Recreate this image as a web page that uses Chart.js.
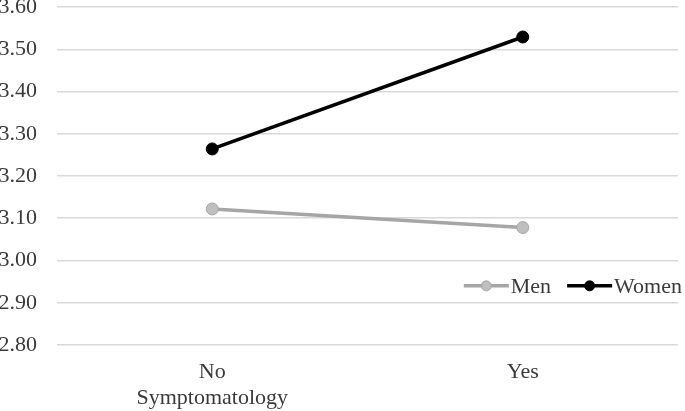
<!DOCTYPE html>
<html>
<head>
<meta charset="utf-8">
<script src="https://cdn.jsdelivr.net/npm/chart.js@4.4.1/dist/chart.umd.min.js"></script>
<style>
  html, body { margin: 0; padding: 0; background: #fff; }
  #wrap { width: 685px; height: 411px; position: relative; }
</style>
</head>
<body>
<div id="wrap"><canvas id="c" width="685" height="411"></canvas></div>
<script>
const categories = [["No", "Symptomatology"], "Yes"];
const menValues = [3.122, 3.078];
const womenValues = [3.264, 3.529];
const yTicks = [2.80, 2.90, 3.00, 3.10, 3.20, 3.30, 3.40, 3.50, 3.60];

const FONT = "'Liberation Serif', 'Times New Roman', serif";
const TEXT = '#3a3a3a';
const FSIZE = 22;

const legendPlugin = {
  id: 'insideLegend',
  afterDraw(chart) {
    const ctx = chart.ctx;
    const area = chart.chartArea;
    const y = chart.scales.y.getPixelForValue(2.94);
    ctx.save();
    ctx.font = FSIZE + 'px ' + FONT;
    ctx.textBaseline = 'middle';
    ctx.textAlign = 'left';
    const items = chart.data.datasets.map(ds => ({ ds, w: ctx.measureText(ds.label).width }));
    const lineLen = 45, gap = 2, itemGap = 16;
    let total = 0;
    items.forEach((it, i) => { total += lineLen + gap + it.w + (i ? itemGap : 0); });
    let x = area.right + 4 - total;
    items.forEach((it, i) => {
      if (i) x += itemGap;
      const ds = it.ds;
      ctx.strokeStyle = ds.borderColor;
      ctx.lineWidth = ds.borderWidth;
      ctx.beginPath();
      ctx.moveTo(x, y);
      ctx.lineTo(x + lineLen, y);
      ctx.stroke();
      ctx.beginPath();
      ctx.arc(x + lineLen / 2, y, 5, 0, Math.PI * 2);
      ctx.fillStyle = ds.pointBackgroundColor;
      ctx.fill();
      ctx.lineWidth = ds.pointBorderWidth;
      ctx.strokeStyle = ds.pointBorderColor;
      ctx.stroke();
      x += lineLen + gap;
      ctx.fillStyle = TEXT;
      ctx.fillText(ds.label, x, y + 1);
      x += it.w;
    });
    ctx.restore();
  }
};

new Chart(document.getElementById('c'), {
  type: 'line',
  data: {
    labels: categories,
    datasets: [
      {
        label: 'Men',
        data: menValues,
        borderColor: '#a6a6a6',
        borderWidth: 3.5,
        pointRadius: 6,
        pointBackgroundColor: '#bfbfbf',
        pointBorderColor: '#a6a6a6',
        pointBorderWidth: 1,
        fill: false,
        tension: 0
      },
      {
        label: 'Women',
        data: womenValues,
        borderColor: '#000000',
        borderWidth: 3.5,
        pointRadius: 6,
        pointBackgroundColor: '#000000',
        pointBorderColor: '#000000',
        pointBorderWidth: 1,
        fill: false,
        tension: 0
      }
    ]
  },
  options: {
    responsive: false,
    animation: false,
    devicePixelRatio: 1,
    layout: { padding: { top: 5, right: 5, left: 0, bottom: 0 } },
    plugins: {
      legend: { display: false },
      tooltip: { enabled: false }
    },
    scales: {
      x: {
        offset: true,
        grid: { display: false, drawTicks: false },
        border: { display: false },
        ticks: { color: TEXT, font: { family: FONT, size: FSIZE, lineHeight: 1.15 }, padding: 15, maxRotation: 0 },
        afterFit(scale) { scale.paddingLeft = 0; scale.paddingRight = 0; scale.height = 66; }
      },
      y: {
        min: 2.8,
        max: 3.6,
        afterBuildTicks(scale) { scale.ticks = yTicks.map(v => ({ value: v })); },
        grid: { color: '#d9d9d9', lineWidth: 1.5, drawTicks: false },
        border: { display: false },
        ticks: {
          color: TEXT,
          font: { family: FONT, size: FSIZE },
          padding: 20,
          callback: v => Number(v).toFixed(2)
        },
        afterFit(scale) { scale.paddingTop = 0; scale.paddingBottom = 0; scale.width = 57; }
      }
    }
  },
  plugins: [legendPlugin]
});
</script>
</body>
</html>
